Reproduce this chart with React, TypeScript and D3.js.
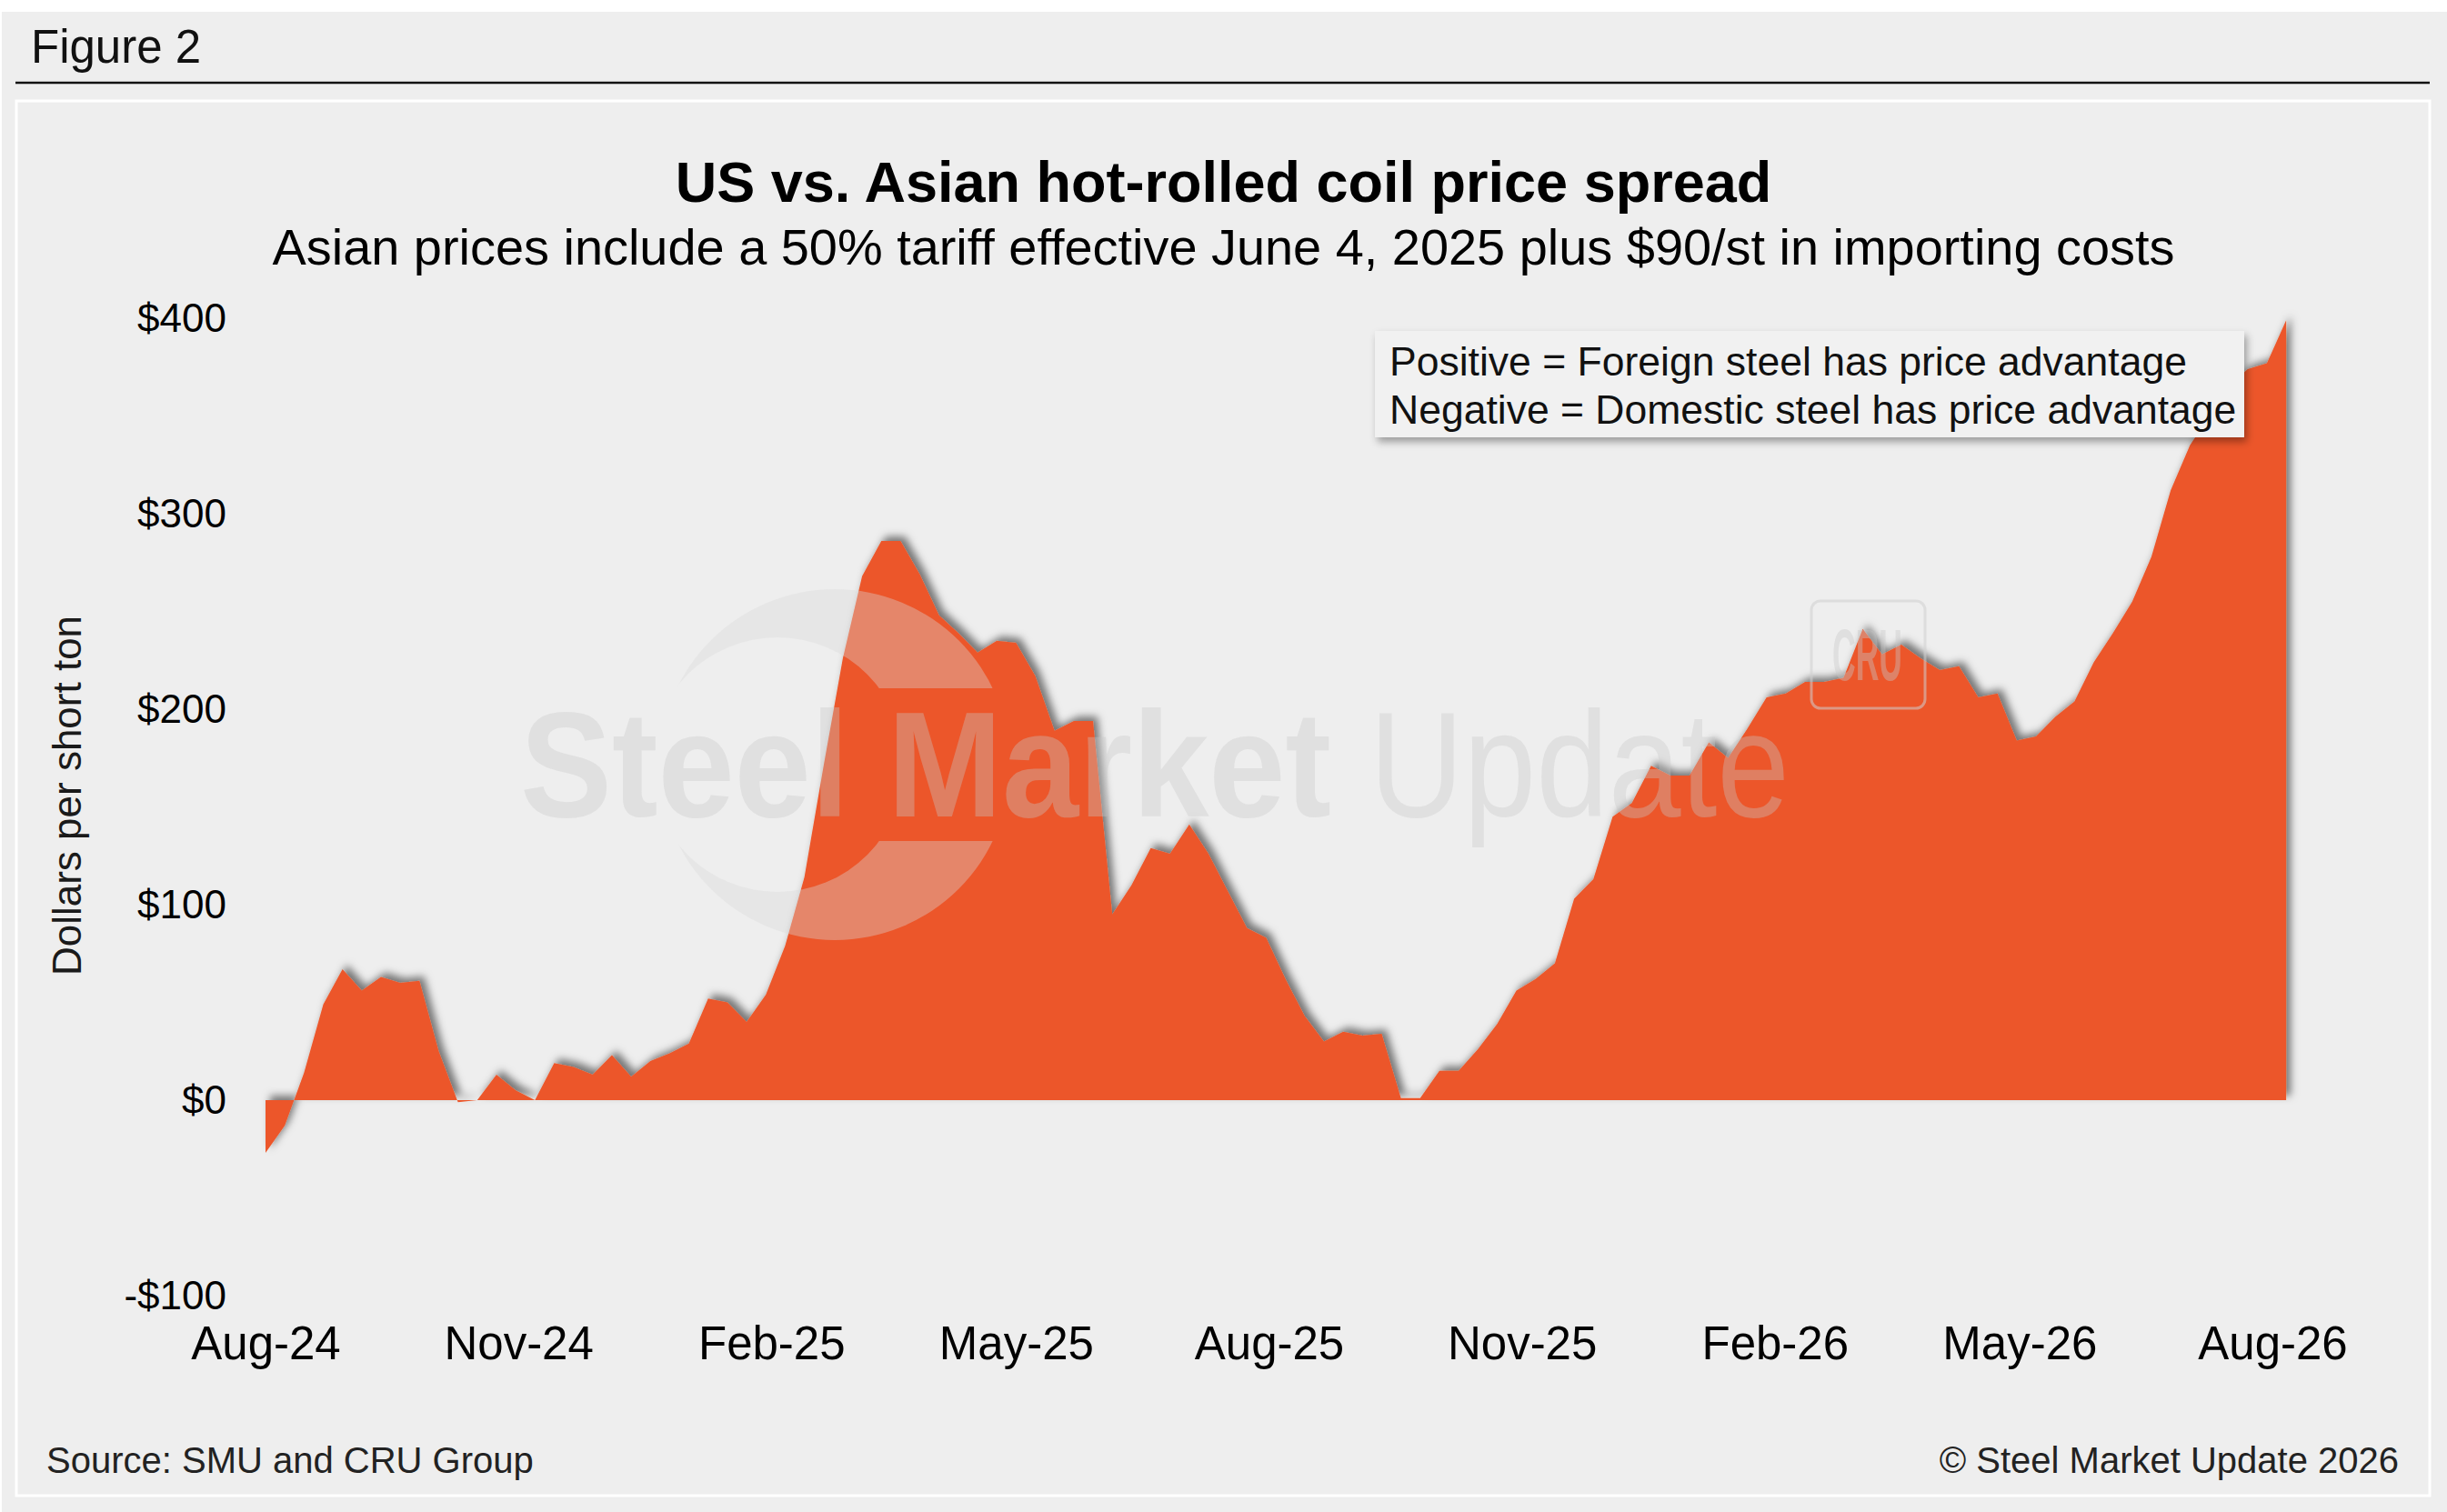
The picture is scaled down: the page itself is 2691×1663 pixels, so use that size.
import { useEffect, useRef } from 'react';
import * as d3 from 'd3';

const WIDTH = 2691;
const HEIGHT = 1663;
const FONT = '"Liberation Sans", Arial, Helvetica, sans-serif';

// Weekly spread in $/short ton, first reading in the week of Aug 1, 2024
const startWeek = new Date(2024, 7, 1);
const spread = [
  -27, -13, 14, 49, 67, 56, 63, 60, 61, 25,
  -1, 0, 13, 5, 0, 19, 17, 13, 23, 12,
  20, 24, 29, 52, 50, 40, 54, 79, 114, 171,
  226, 268, 286, 286, 269, 248, 239, 229, 235, 234,
  217, 189, 194, 194, 95, 110, 129, 126, 141, 126,
  107, 88, 83, 62, 43, 30, 35, 33, 34, 1,
  1, 15, 15, 26, 39, 56, 62, 70, 103, 113,
  145, 152, 171, 166, 166, 183, 175, 190, 206, 208,
  214, 214, 216, 241, 228, 233, 226, 220, 222, 206,
  208, 184, 186, 196, 204, 224, 239, 255, 278, 312,
  335, 350, 365, 374, 377, 399
];

const xTickDates = [
  new Date(2024, 7, 1), new Date(2024, 10, 1), new Date(2025, 1, 1),
  new Date(2025, 4, 1), new Date(2025, 7, 1), new Date(2025, 10, 1),
  new Date(2026, 1, 1), new Date(2026, 4, 1), new Date(2026, 7, 1)
];
const yTicks = [-100, 0, 100, 200, 300, 400];

const title = 'US vs. Asian hot-rolled coil price spread';
const subtitle = 'Asian prices include a 50% tariff effective June 4, 2025 plus $90/st in importing costs';
const yLabel = 'Dollars per short ton';
const noteLines = [
  'Positive = Foreign steel has price advantage',
  'Negative = Domestic steel has price advantage'
];
const sourceText = 'Source: SMU and CRU Group';
const copyrightText = '\u00A9 Steel Market Update 2026';

export default function App() {
  const svgRef = useRef<SVGSVGElement>(null);

  useEffect(() => {
    if (!svgRef.current) return;
    const svg = d3.select(svgRef.current);
    svg.selectAll('*').remove();

    const dates = spread.map((_, i) => d3.timeDay.offset(startWeek, i * 7));

    const xScale = d3.scaleTime()
      .domain([xTickDates[0], xTickDates[xTickDates.length - 1]])
      .range([292, 2499]);

    const yScale = d3.scaleLinear()
      .domain([-100, 400])
      .range([1425, 350]);

    // Filters
    const defs = svg.append('defs');
    defs.append('filter')
      .attr('id', 'areaShadow')
      .attr('x', '-5%').attr('y', '-10%').attr('width', '110%').attr('height', '120%')
      .append('feDropShadow')
      .attr('dx', 5).attr('dy', -5)
      .attr('stdDeviation', 4)
      .attr('flood-color', '#000')
      .attr('flood-opacity', 0.5);

    defs.append('filter')
      .attr('id', 'boxShadow')
      .attr('x', '-10%').attr('y', '-30%').attr('width', '120%').attr('height', '160%')
      .append('feDropShadow')
      .attr('dx', 3).attr('dy', 5)
      .attr('stdDeviation', 4)
      .attr('flood-color', '#000')
      .attr('flood-opacity', 0.35);

    const mask = defs.append('mask').attr('id', 'crescentMask');
    mask.append('rect').attr('width', WIDTH).attr('height', HEIGHT).attr('fill', 'black');
    mask.append('circle').attr('cx', 918).attr('cy', 841).attr('r', 193).attr('fill', 'white');
    mask.append('circle').attr('cx', 855).attr('cy', 841).attr('r', 140).attr('fill', 'black');
    mask.append('rect').attr('x', 600).attr('y', 757).attr('width', 600).attr('height', 168).attr('fill', 'black');

    // Background
    svg.append('rect').attr('width', WIDTH).attr('height', HEIGHT).attr('fill', '#ffffff');
    svg.append('rect').attr('x', 2).attr('y', 13).attr('width', WIDTH - 2).attr('height', HEIGHT - 13).attr('fill', '#eeeeee');

    // Header
    svg.append('text')
      .attr('x', 34).attr('y', 69)
      .attr('font-size', 51).attr('fill', '#111')
      .text('Figure 2');

    svg.append('line')
      .attr('x1', 17).attr('x2', 2672)
      .attr('y1', 91).attr('y2', 91)
      .attr('stroke', '#111').attr('stroke-width', 2.5);

    // Panel border
    svg.append('rect')
      .attr('x', 18).attr('y', 111)
      .attr('width', 2654).attr('height', 1534)
      .attr('fill', 'none')
      .attr('stroke', '#ffffff').attr('stroke-width', 3);

    // Titles
    svg.append('text')
      .attr('x', WIDTH / 2).attr('y', 222)
      .attr('text-anchor', 'middle')
      .attr('font-size', 63).attr('font-weight', 'bold').attr('fill', '#000')
      .text(title);

    svg.append('text')
      .attr('x', WIDTH / 2).attr('y', 291)
      .attr('text-anchor', 'middle')
      .attr('font-size', 55.9).attr('fill', '#000')
      .text(subtitle);

    // Y-axis label
    svg.append('text')
      .attr('transform', 'translate(74, 875) rotate(-90)')
      .attr('text-anchor', 'middle')
      .attr('dy', '0.35em')
      .attr('font-size', 44).attr('fill', '#1a1a1a')
      .text(yLabel);

    // Y tick labels
    const yAxis = d3.axisLeft(yScale)
      .tickValues(yTicks)
      .tickSize(0)
      .tickPadding(0)
      .tickFormat(d => (Number(d) < 0 ? `-$${Math.abs(Number(d))}` : `$${d}`));

    const yG = svg.append('g')
      .attr('transform', 'translate(249,0)')
      .call(yAxis);
    yG.select('.domain').remove();
    yG.selectAll('text')
      .attr('font-size', 44)
      .attr('font-family', FONT)
      .attr('fill', '#000');

    // X tick labels
    const xAxis = d3.axisBottom(xScale)
      .tickValues(xTickDates)
      .tickSize(0)
      .tickPadding(0)
      .tickFormat(d => d3.timeFormat('%b-%y')(d as Date));

    const xG = svg.append('g')
      .attr('transform', 'translate(0,1458)')
      .call(xAxis);
    xG.select('.domain').remove();
    xG.selectAll('text')
      .attr('font-size', 51)
      .attr('font-family', FONT)
      .attr('fill', '#000')
      .attr('dy', '0.72em');

    // Spread area
    const area = d3.area<number>()
      .x((_, i) => xScale(dates[i]))
      .y0(yScale(0))
      .y1(d => yScale(d));

    svg.append('path')
      .datum(spread)
      .attr('d', area)
      .attr('fill', '#ec572a')
      .attr('filter', 'url(#areaShadow)');

    // Watermark
    const wm = svg.append('g').attr('class', 'watermark');
    wm.append('rect')
      .attr('width', WIDTH).attr('height', HEIGHT)
      .attr('fill', '#d8d8d8').attr('fill-opacity', 0.37)
      .attr('mask', 'url(#crescentMask)');

    wm.append('text')
      .attr('x', 572).attr('y', 898)
      .attr('font-size', 166).attr('font-weight', 'bold')
      .attr('textLength', 892).attr('lengthAdjust', 'spacingAndGlyphs')
      .attr('fill', '#c7c7c7').attr('fill-opacity', 0.36)
      .text('Steel Market');

    wm.append('text')
      .attr('x', 1506).attr('y', 898)
      .attr('font-size', 166)
      .attr('textLength', 462).attr('lengthAdjust', 'spacingAndGlyphs')
      .attr('fill', '#c7c7c7').attr('fill-opacity', 0.36)
      .text('Update');

    wm.append('rect')
      .attr('x', 1992).attr('y', 661)
      .attr('width', 125).attr('height', 118)
      .attr('rx', 10)
      .attr('fill', 'none')
      .attr('stroke', '#cfcfcf').attr('stroke-opacity', 0.55).attr('stroke-width', 3);

    wm.append('text')
      .attr('x', 2015).attr('y', 748)
      .attr('font-size', 80).attr('font-weight', 'bold')
      .attr('textLength', 77).attr('lengthAdjust', 'spacingAndGlyphs')
      .attr('fill', '#c7c7c7').attr('fill-opacity', 0.4)
      .text('CRU');

    // Annotation box
    svg.append('rect')
      .attr('x', 1512).attr('y', 364)
      .attr('width', 956).attr('height', 117)
      .attr('fill', '#f1f1f1')
      .attr('filter', 'url(#boxShadow)');

    noteLines.forEach((line, i) => {
      svg.append('text')
        .attr('x', 1528).attr('y', 413 + i * 53)
        .attr('font-size', 44.5).attr('fill', '#111')
        .text(line);
    });

    // Footer
    svg.append('text')
      .attr('x', 51).attr('y', 1620)
      .attr('font-size', 40).attr('fill', '#222')
      .text(sourceText);

    svg.append('text')
      .attr('x', 2638).attr('y', 1620)
      .attr('text-anchor', 'end')
      .attr('font-size', 40).attr('fill', '#222')
      .text(copyrightText);
  }, []);

  return (
    <svg
      ref={svgRef}
      width={WIDTH}
      height={HEIGHT}
      fontFamily={FONT}
      style={{ position: 'absolute', left: 0, top: 0, display: 'block' }}
    />
  );
}
